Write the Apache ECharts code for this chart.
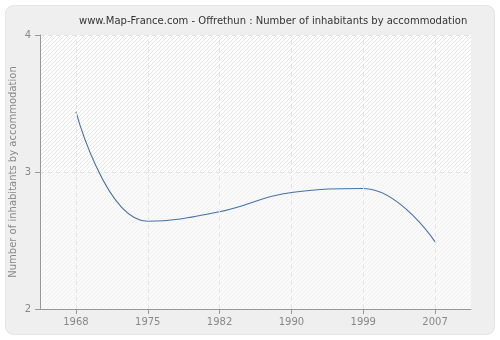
<!DOCTYPE html>
<html>
<head>
<meta charset="utf-8">
<script src="https://cdn.jsdelivr.net/npm/echarts@6/dist/echarts.min.js"></script>
<style>
  html, body { margin: 0; padding: 0; background: #ffffff; }
  #chart { width: 500px; height: 340px; }
</style>
</head>
<body>
<div id="chart"></div>
<script>
// Census years and the average number of inhabitants per dwelling
var years = ['1968', '1975', '1982', '1990', '1999', '2007'];
var inhabitants = [3.44, 2.64, 2.71, 2.85, 2.88, 2.49];
var yTicks = [2, 3, 4];
var yTitle = 'Number of inhabitants by accommodation';

// Diagonal hatch tile used to shade the plotting area
function hatch(bg, line) {
  var c = document.createElement('canvas');
  c.width = 4; c.height = 4;
  var g = c.getContext('2d');
  g.fillStyle = bg;
  g.fillRect(0, 0, 4, 4);
  g.strokeStyle = line;
  g.lineWidth = 1;
  g.beginPath();
  g.moveTo(-1, 5); g.lineTo(5, -1);
  g.moveTo(3, 5); g.lineTo(5, 3);
  g.moveTo(-1, 1); g.lineTo(1, -1);
  g.stroke();
  return { image: c, repeat: 'repeat' };
}

var gridLine = { color: '#e2e2e2', type: [4, 4], width: 1 };

var chart = echarts.init(document.getElementById('chart'), null, { renderer: 'canvas' });
chart.setOption({
  animation: false,
  backgroundColor: '#ffffff',
  graphic: [{
    type: 'rect',
    left: 5, top: 5,
    shape: { width: 489, height: 329, r: 8 },
    style: { fill: '#efefef', stroke: '#e4e4e4', lineWidth: 1 },
    z: -10
  }, {
    // vertical title of the value axis
    type: 'text',
    x: 13, y: 172,
    rotation: Math.PI / 2,
    style: {
      text: yTitle,
      fill: '#888888',
      font: '10px "DejaVu Sans"',
      align: 'center',
      verticalAlign: 'middle'
    },
    z: 10
  }],
  title: {
    text: 'www.Map-France.com - Offrethun : Number of inhabitants by accommodation',
    left: 74, top: 11,
    textStyle: { fontFamily: 'DejaVu Sans', fontSize: 10, fontWeight: 'normal', color: '#333333' }
  },
  grid: { left: 40, right: 29, top: 35, bottom: 31, containLabel: false, outerBoundsMode: 'none' },
  xAxis: {
    type: 'category',
    data: years,
    boundaryGap: true,
    axisLine: { show: true, onZero: false, lineStyle: { color: '#999999' } },
    axisTick: { show: true, alignWithLabel: true, length: 5, lineStyle: { color: '#999999' } },
    axisLabel: { color: '#888888', fontFamily: 'DejaVu Sans', fontSize: 10, margin: 8 },
    splitLine: { show: false }
  },
  yAxis: {
    type: 'value',
    min: yTicks[0], max: yTicks[yTicks.length - 1], interval: 1,
    axisLine: { show: true, onZero: false, lineStyle: { color: '#999999' } },
    axisTick: { show: true, length: 5, lineStyle: { color: '#999999' } },
    axisLabel: { color: '#888888', fontFamily: 'DejaVu Sans', fontSize: 10, margin: 9 },
    splitLine: { show: true, lineStyle: gridLine }
  },
  series: [{
    type: 'line',
    data: inhabitants,
    smooth: 0.45,
    symbol: 'none',
    lineStyle: { color: '#4472a8', width: 1.1 },
    markArea: {
      silent: true,
      z: -1,
      data: [
        [{ yAxis: 3, x: 40, itemStyle: { color: hatch('#ffffff', '#e6e6e6') } }, { yAxis: 4, x: 471 }],
        [{ yAxis: 2, x: 40, itemStyle: { color: hatch('#fafafa', '#f0f0f0') } }, { yAxis: 3, x: 471 }]
      ]
    },
    markLine: {
      silent: true,
      symbol: 'none',
      label: { show: false },
      lineStyle: gridLine,
      data: years.map(function (y) { return { xAxis: y }; })
    }
  }]
});
</script>
</body>
</html>
